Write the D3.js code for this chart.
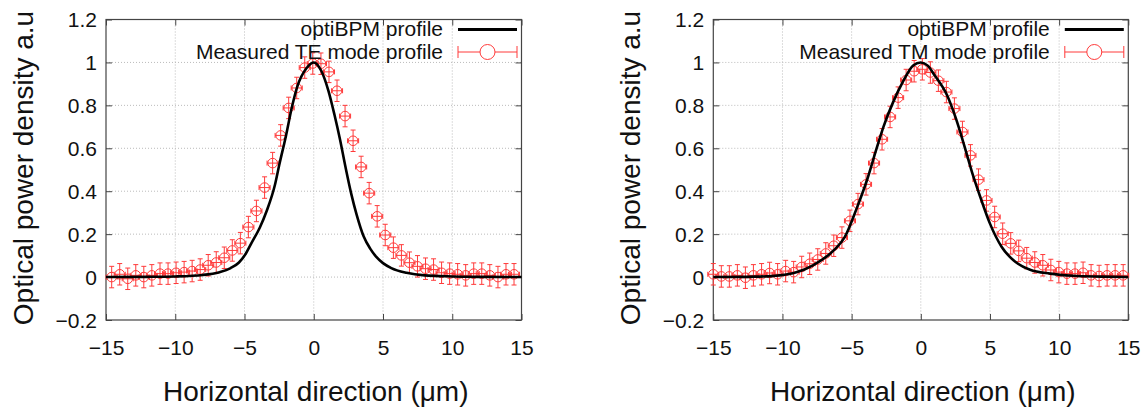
<!DOCTYPE html>
<html>
<head>
<meta charset="utf-8">
<script src="https://cdn.jsdelivr.net/npm/d3@7"></script>
<style>
  body { margin: 0; background: #fff; }
  svg text { font-family: "Liberation Sans", Arial, sans-serif; fill: #111; }
</style>
</head>
<body>
<script>
// --- Data ---
var X_TICKS = [-15, -10, -5, 0, 5, 10, 15];
var Y_TICKS = [-0.2, 0, 0.2, 0.4, 0.6, 0.8, 1, 1.2];

// TE panel: measured points
var TE_X = [-14.59, -14.01, -13.43, -12.85, -12.27, -11.69, -11.10, -10.52, -9.94, -9.36,
            -8.78, -8.20, -7.62, -7.04, -6.46, -5.88, -5.30, -4.72, -4.14, -3.55,
            -2.97, -2.39, -1.81, -1.23, -0.65, -0.07, 0.52, 1.10, 1.68, 2.26,
            2.84, 3.42, 4.00, 4.58, 5.16, 5.75, 6.33, 6.91, 7.49, 8.07,
            8.65, 9.23, 9.81, 10.39, 10.97, 11.55, 12.13, 12.71, 13.30, 13.88, 14.46];
var TE_Y = [0.000, 0.013, -0.008, 0.008, 0.000, 0.008, 0.016, 0.016, 0.020, 0.023,
            0.028, 0.035, 0.055, 0.068, 0.090, 0.124, 0.158, 0.233, 0.308, 0.417,
            0.531, 0.660, 0.788, 0.881, 0.976, 0.995, 0.994, 0.956, 0.868, 0.750,
            0.635, 0.513, 0.391, 0.283, 0.196, 0.137, 0.101, 0.067, 0.050, 0.039,
            0.035, 0.020, 0.016, 0.013, 0.008, 0.016, 0.016, 0.008, 0.000, 0.013, 0.013];
// TE panel: simulated optiBPM curve
var TE_SIM_X = [-15, -12, -10, -8, -6.8, -6.0, -5.4, -4.9, -4.5, -3.9, -3.4, -2.8, -2.5, -2.0, -1.6, -1.2, -0.5, 0,
                0.55, 1.05, 1.5, 1.9, 2.3, 2.7, 3.1, 3.6, 4.1, 4.5, 5.0, 5.6, 6.7, 8, 10, 12, 15];
var TE_SIM_Y = [0, 0.001, 0.003, 0.01, 0.023, 0.042, 0.068, 0.11, 0.158, 0.23, 0.308, 0.43, 0.52, 0.66, 0.785, 0.885, 0.975, 1.0,
                0.96, 0.87, 0.755, 0.64, 0.51, 0.39, 0.29, 0.19, 0.13, 0.095, 0.065, 0.042, 0.02, 0.008, 0.003, 0.001, 0];

// TM panel: measured points
var TM_X = [-15.00, -14.42, -13.84, -13.26, -12.68, -12.10, -11.51, -10.93, -10.35, -9.77,
            -9.19, -8.61, -8.03, -7.45, -6.87, -6.29, -5.70, -5.12, -4.54, -3.96,
            -3.38, -2.80, -2.22, -1.64, -1.06, -0.48, 0.11, 0.69, 1.27, 1.85,
            2.43, 3.01, 3.59, 4.17, 4.75, 5.34, 5.92, 6.50, 7.08, 7.66,
            8.24, 8.82, 9.40, 9.98, 10.56, 11.15, 11.73, 12.31, 12.89, 13.47, 14.05, 14.63];
var TM_Y = [0.013, 0.003, 0.003, 0.008, -0.003, 0.008, 0.013, 0.019, 0.013, 0.028,
            0.023, 0.047, 0.062, 0.082, 0.110, 0.146, 0.184, 0.262, 0.340, 0.432,
            0.531, 0.642, 0.746, 0.836, 0.918, 0.959, 0.968, 0.953, 0.915, 0.862,
            0.785, 0.676, 0.567, 0.454, 0.357, 0.280, 0.202, 0.157, 0.122, 0.088,
            0.068, 0.055, 0.033, 0.023, 0.016, 0.016, 0.020, 0.008, 0.005, 0.008, 0.008, 0.008];
// TM panel: simulated optiBPM curve
var TM_SIM_X = [-15, -12, -10.2, -9, -7.8, -6.3, -5.5, -4.6, -3.9, -3.2, -2.7, -2.0, -1.3, -0.55, 0,
                0.5, 1.0, 1.9, 2.5, 3.1, 3.7, 4.3, 5.0, 5.85, 6.7, 7.9, 9.35, 11, 13, 15];
var TM_SIM_Y = [0, 0.002, 0.008, 0.022, 0.055, 0.124, 0.186, 0.326, 0.45, 0.598, 0.7, 0.815, 0.909, 0.986, 1.0,
                0.985, 0.94, 0.847, 0.746, 0.622, 0.489, 0.373, 0.249, 0.14, 0.078, 0.034, 0.016, 0.006, 0.002, 0];

var X_ERR = 0.4, Y_ERR = 0.05;

var w = 1146, h = 413;
var RED = "#ff3a3a";

var svg = d3.select("body")
    .append("svg")
    .attr("width", w)
    .attr("height", h);

function drawPanel(left, right, mx, my, sx, sy, legendLabel) {
    var top = 19.5, bottom = 320;

    var x = d3.scaleLinear().domain([-15, 15]).range([left, right]);
    var y = d3.scaleLinear().domain([-0.2, 1.2]).range([bottom, top]);
    var fmt = d3.format("~g");

    var g = svg.append("g");

    // --- grid ---
    g.selectAll(".gx")
        .data(X_TICKS.slice(1, -1))
        .enter().append("line")
        .attr("x1", d => x(d)).attr("x2", d => x(d))
        .attr("y1", top).attr("y2", bottom)
        .style("stroke", "#bbb").style("stroke-dasharray", "1,2");
    g.selectAll(".gy")
        .data(Y_TICKS.slice(1, -1))
        .enter().append("line")
        .attr("x1", left).attr("x2", right)
        .attr("y1", d => y(d)).attr("y2", d => y(d))
        .style("stroke", "#bbb").style("stroke-dasharray", "1,2");

    // --- axes (ticks inward on all sides) ---
    var axes = [
        { a: d3.axisBottom(x).tickValues(X_TICKS).tickSize(6).tickFormat(fmt), t: "translate(0," + bottom + ")" },
        { a: d3.axisTop(x).tickValues(X_TICKS).tickSize(6).tickFormat(""), t: "translate(0," + top + ")" },
        { a: d3.axisLeft(y).tickValues(Y_TICKS).tickSize(6).tickFormat(fmt), t: "translate(" + left + ",0)" },
        { a: d3.axisRight(y).tickValues(Y_TICKS).tickSize(6).tickFormat(""), t: "translate(" + right + ",0)" }
    ];
    axes.forEach(function(ax, i) {
        var ag = g.append("g").attr("transform", ax.t).call(ax.a);
        ag.select(".domain").remove();
        ag.selectAll(".tick line").style("stroke", "#444");
        // flip ticks to the inside
        if (i === 0) ag.selectAll(".tick line").attr("y2", -6);
        if (i === 1) ag.selectAll(".tick line").attr("y2", 6);
        if (i === 2) ag.selectAll(".tick line").attr("x2", 6);
        if (i === 3) ag.selectAll(".tick line").attr("x2", -6);
        ag.selectAll("text").style("font-size", "21px").style("fill", "#111")
            .style("font-family", "'Liberation Sans', Arial, sans-serif");
        if (i === 0) ag.selectAll("text").attr("y", 35).attr("dy", null);
        if (i === 2) ag.selectAll("text").attr("x", -9).attr("dy", "0.35em");
    });

    g.append("rect")
        .attr("x", left).attr("y", top)
        .attr("width", right - left).attr("height", bottom - top)
        .style("fill", "none").style("stroke", "#444").style("stroke-width", 1.2);

    // --- measured points with error bars ---
    var pts = mx.map((v, i) => ({ x: v, y: my[i] }));
    var pg = g.append("g").style("stroke", RED).style("fill", "none").style("stroke-width", 1);
    var cap = 2.5;
    pts.forEach(function(d) {
        var cx = x(d.x), cy = y(d.y);
        var x0 = x(d.x - X_ERR), x1 = x(d.x + X_ERR);
        var y0 = y(d.y - Y_ERR), y1 = y(d.y + Y_ERR);
        pg.append("line").attr("x1", x0).attr("x2", x1).attr("y1", cy).attr("y2", cy);
        pg.append("line").attr("x1", x0).attr("x2", x0).attr("y1", cy - cap).attr("y2", cy + cap);
        pg.append("line").attr("x1", x1).attr("x2", x1).attr("y1", cy - cap).attr("y2", cy + cap);
        pg.append("line").attr("x1", cx).attr("x2", cx).attr("y1", y0).attr("y2", y1);
        pg.append("line").attr("x1", cx - cap).attr("x2", cx + cap).attr("y1", y0).attr("y2", y0);
        pg.append("line").attr("x1", cx - cap).attr("x2", cx + cap).attr("y1", y1).attr("y2", y1);
        pg.append("circle").attr("cx", cx).attr("cy", cy).attr("r", 4.8);
    });

    // --- simulated curve ---
    var sim = sx.map((v, i) => [v, sy[i]]);
    var line = d3.line()
        .x(d => x(d[0]))
        .y(d => y(Math.max(0, d[1])))
        .curve(d3.curveMonotoneX);
    g.append("path")
        .datum(sim)
        .attr("d", line)
        .style("fill", "none")
        .style("stroke", "#000")
        .style("stroke-width", 2.6);

    // --- axis titles ---
    g.append("text")
        .attr("transform", "translate(" + (left - 73) + "," + 168 + ") rotate(-90)")
        .attr("text-anchor", "middle")
        .style("font-size", "28px")
        .text("Optical power density a.u");
    g.append("text")
        .attr("x", (left + right) / 2 + 2)
        .attr("y", 401)
        .attr("text-anchor", "middle")
        .style("font-size", "28px")
        .text("Horizontal direction (\u03bcm)");

    // --- legend ---
    var lx = right - 78.5, s0 = right - 63.5, s1 = right - 4.5;
    g.append("text").attr("x", lx).attr("y", 36)
        .attr("text-anchor", "end").style("font-size", "21px").text("optiBPM profile");
    g.append("line").attr("x1", s0).attr("x2", s1).attr("y1", 29.5).attr("y2", 29.5)
        .style("stroke", "#000").style("stroke-width", 3);
    g.append("text").attr("x", lx).attr("y", 59)
        .attr("text-anchor", "end").style("font-size", "21px").text(legendLabel);
    var lg = g.append("g").style("stroke", RED).style("fill", "none").style("stroke-width", 1);
    var ly = 52, mid = (s0 + s1) / 2;
    lg.append("line").attr("x1", s0).attr("x2", s1).attr("y1", ly).attr("y2", ly);
    lg.append("line").attr("x1", s0).attr("x2", s0).attr("y1", ly - 6).attr("y2", ly + 6);
    lg.append("line").attr("x1", s1).attr("x2", s1).attr("y1", ly - 6).attr("y2", ly + 6);
    lg.append("circle").attr("cx", mid).attr("cy", ly).attr("r", 7.5).style("fill", "#fff");
}

drawPanel(106, 521.5, TE_X, TE_Y, TE_SIM_X, TE_SIM_Y, "Measured TE mode profile");
drawPanel(713.3, 1128.3, TM_X, TM_Y, TM_SIM_X, TM_SIM_Y, "Measured TM mode profile");
</script>
</body>
</html>
